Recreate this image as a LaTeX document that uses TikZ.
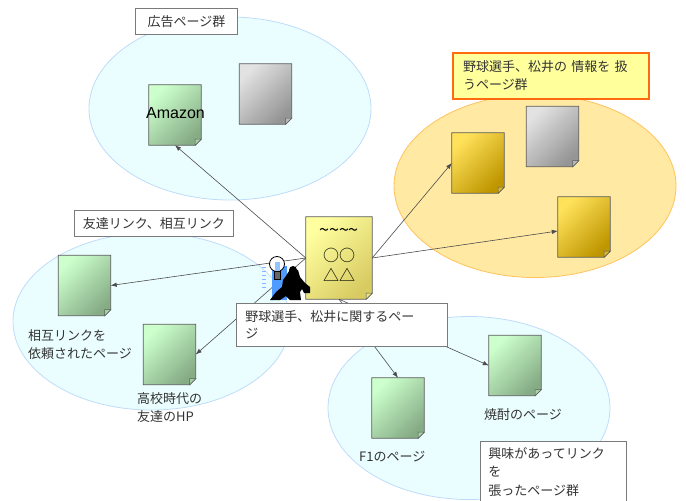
\documentclass[tikz,border=0pt]{standalone}
\usepackage{fontspec}
\setmainfont{Liberation Sans}
\newfontfamily\jp{Noto Sans CJK JP}
\usetikzlibrary{
	positioning,
	arrows.meta,
	shapes.geometric}

\definecolor{skyfill}{HTML}{EBFEFF}
\definecolor{skyline}{HTML}{BEDCFA}
\definecolor{sunfill}{HTML}{FFE9A3}
\definecolor{sunline}{HTML}{FFC35C}
\definecolor{greenlt}{HTML}{CCFFCC}
\definecolor{greendk}{HTML}{86AC86}
\definecolor{greylt}{HTML}{E2E2E2}
\definecolor{greydk}{HTML}{959595}
\definecolor{goldlt}{HTML}{FFE15A}
\definecolor{golddk}{HTML}{BE9600}
\definecolor{memolt}{HTML}{FFFFA0}
\definecolor{memodk}{HTML}{D8CB62}
\definecolor{pageline}{HTML}{5A5A5A}
\definecolor{tagline}{HTML}{7A7A7A}
\definecolor{hotline}{HTML}{FF6A10}
\definecolor{hotfill}{HTML}{FFFF9C}
\definecolor{bulbblue}{HTML}{4F9BFF}

\tikzset{
	group/.style={
		ellipse,
		inner sep=0pt,
		minimum width=282pt,
		minimum height=183pt,
		line width=0.8pt
	},
	blue group/.style={group, draw=skyline, fill=skyfill},
	orange group/.style={group, draw=sunline, fill=sunfill},
	page/.style={
		rectangle,
		inner sep=0pt,
		minimum width=52pt,
		minimum height=60pt
	},
	fold/.store in=\fsize,
	fold=6pt,
	jptext/.style={
		font=\jp\fontsize{13}{18}\selectfont,
		text=black!80
	},
	tag/.style={
		jptext,
		draw=tagline,
		fill=white,
		line width=0.8pt,
		inner sep=0pt
	},
	caption/.style={
		jptext,
		align=left,
		inner sep=0pt
	},
	memo mark/.style={
		font=\jp\fontsize{16}{16}\selectfont,
		inner sep=0pt
	},
	link/.style={
		draw=black!70,
		line width=0.6pt,
		-{Latex[length=6pt,width=4.5pt]}
	},
}

\begin{document}
\begin{tikzpicture}[x=1pt, y=-1pt]
	\useasboundingbox (0,0) rectangle (686,501);

	\node[blue group] (grpAd) at (230,108.5) {};
	\node[orange group] (grpInfo) at (535,186) {};
	\node[blue group, minimum width=277pt, minimum height=177pt] (grpFriend) at (151.5,321.5) {};
	\node[blue group] (grpLink) at (469,408) {};

	\node[page] (ama) at (175,115) {};
	\node[page] (adGrey) at (265.5,94) {};
	\node[page] (infoA) at (478,163) {};
	\node[page] (infoGrey) at (552.5,136.5) {};
	\node[page] (infoB) at (584,227) {};
	\node[page] (mutual) at (84.5,285.5) {};
	\node[page] (school) at (169.5,354.5) {};
	\node[page] (fone) at (398,408) {};
	\node[page] (shochu) at (515,365.5) {};
	\node[page, minimum width=66pt, minimum height=82pt] (matsui) at (339,258) {};

	\foreach \p/\lt/\dk in {ama/greenlt/greendk, adGrey/greylt/greydk,
			infoA/goldlt/golddk, infoGrey/greylt/greydk, infoB/goldlt/golddk,
			mutual/greenlt/greendk, school/greenlt/greendk, fone/greenlt/greendk,
			shochu/greenlt/greendk, matsui/memolt/memodk} {
		\shade[top color=\lt, bottom color=\dk, shading angle=45,
			draw=pageline, line width=0.7pt]
			(\p.north west) -- (\p.north east) -- ([yshift=\fsize]\p.south east)
			-- ([xshift=-\fsize]\p.south east) -- (\p.south west) -- cycle;
		\filldraw[fill=\lt!45!\dk, draw=pageline, line width=0.5pt]
			([xshift=-\fsize]\p.south east) -- ([yshift=\fsize]\p.south east)
			-- ([shift={(-\fsize,\fsize)}]\p.south east) -- cycle;
	}

	\node[font=\fontsize{16}{16}\selectfont, inner sep=0pt] (amaTxt) at (175.5,113) {Amazon};

	\node[memo mark, font=\jp\fontsize{18}{18}\selectfont] (memoA) at (339,232) {\string~\string~\string~\string~};
	\node[memo mark] (memoB) at (339,255) {○○};
	\node[memo mark] (memoC) at (339,275) {△△};

	\draw[link] (matsui.west) -- (ama.south);
	\draw[link] (matsui.west) -- (mutual.east);
	\draw[link] (matsui.west) -- (school.east);
	\draw[link] (matsui.east) -- (infoA.west);
	\draw[link] (matsui.east) -- ([yshift=-4pt]infoB.west);
	\draw[link] (matsui.south) -- (fone.north);
	\draw[link] (matsui.south) -- (shochu.west);

	% thinking man with the bulb
	\fill[bulbblue] (272,266) rectangle (287,300);
	\foreach \yy in {267,271,275,279,283,287}
		\draw[bulbblue!70, line width=0.7pt] (262,\yy) -- (266,\yy);
	\filldraw[fill=white, draw=black, line width=0.8pt] (277,264) circle (7.5);
	\fill[bulbblue!60] (274.5,262) rectangle (279.5,271);
	\filldraw[fill=black!60, draw=black] (274.5,271) rectangle (280,279);
	\fill[black] (286,276) -- (291,268) -- (298,270) -- (300,277) -- (305,283)
		-- (310,287) -- (310,293) -- (304,293) -- (302,289) -- (300,292)
		-- (301,300) -- (290,300) -- (286,296) -- (280,300) -- (270,300)
		-- (276,292) -- (282,287) -- (283,280) -- cycle;
	\fill[black] (293,270) circle (4);

	\node[caption, anchor=north west] (mutualTxt) at (28,329) {相互リンクを\\依頼されたページ};
	\node[caption, anchor=north west] (schoolTxt) at (137,392) {高校時代の\\友達のHP};
	\node[caption, anchor=west] (shochuTxt) at (484,415) {焼酎のページ};
	\node[caption, anchor=west] (foneTxt) at (359,457) {F1のページ};

	\node[tag, anchor=north west, minimum width=102pt, minimum height=26pt] (lblAd) at (135,8) {広告ページ群};
	\node[tag, anchor=north west, minimum width=159pt, minimum height=26pt] (lblFriend) at (74,210) {友達リンク、相互リンク};
	\node[tag, anchor=north west, draw=hotline, fill=hotfill, line width=2pt,
		inner xsep=10pt, text width=176pt, minimum height=46pt, align=left]
		(lblInfo) at (452,52) {野球選手、松井の 情報を 扱\\うページ群};
	\node[tag, anchor=north west, inner xsep=9pt, text width=193pt,
		minimum height=43pt, align=left, font=\jp\fontsize{13}{17}\selectfont]
		(lblMain) at (236,303) {野球選手、松井に関するペー\\ジ};
	\node[tag, anchor=north west, inner xsep=8pt, inner ysep=6pt, text width=130pt,
		align=left, font=\jp\fontsize{13}{18.5}\selectfont]
		(lblLink) at (480,441) {興味があってリンク\\を\\張ったページ群};
\end{tikzpicture}
\end{document}
